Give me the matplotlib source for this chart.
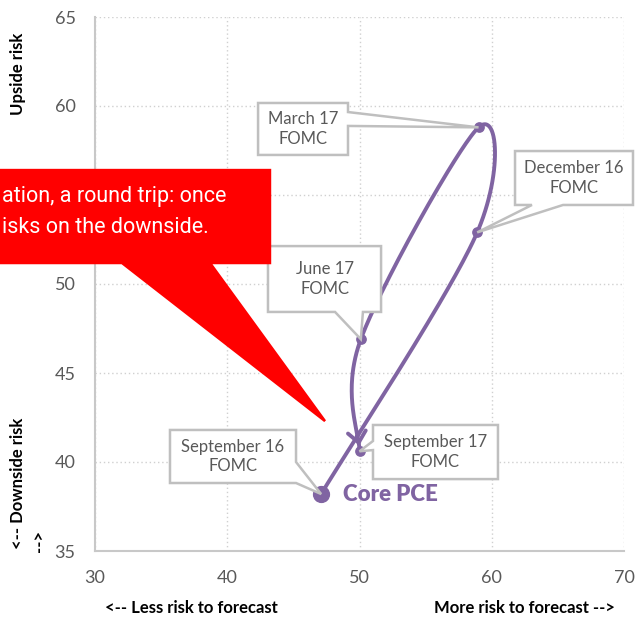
import numpy as np
import matplotlib
matplotlib.use('Agg')
import matplotlib.pyplot as plt
from matplotlib.patches import Polygon

# FOMC meetings, core PCE risk balance (x: risk to forecast, y: up/down risk)
meetings = ['September 16', 'December 16', 'March 17', 'June 17', 'September 17']
risk_x = [47.1, 58.9, 59.0, 50.1, 50.0]
risk_y = [38.2, 52.9, 58.8, 46.9, 40.6]
series_name = 'Core PCE'

x_ticks = [30, 40, 50, 60, 70]
y_ticks = [35, 40, 45, 50, 55, 60, 65]

note_lines = ['ation, a round trip: once', 'isks on the downside.']

PURPLE = '#8064A2'
GREY_TXT = '#595959'
BOX_EDGE = '#BFBFBF'
BASE_FONT = ['Lato', 'DejaVu Sans']

plt.rcParams['font.family'] = BASE_FONT

W, H = 635, 618
fig = plt.figure(figsize=(W / 100, H / 100), dpi=100)
ax = fig.add_axes([95 / W, (H - 551) / H, (624 - 95) / W, (551 - 17) / H])
ax.set_xlim(30, 70)
ax.set_ylim(35, 65)
ax.set_xticks(x_ticks)
ax.set_yticks(y_ticks)
ax.tick_params(length=0, pad=14, labelsize=13, labelcolor=GREY_TXT)
ax.grid(True, color='#D0D0D0', ls=(0, (1, 2)), lw=1.0)
for s in ['top', 'right']:
    ax.spines[s].set_visible(False)
for s in ['left', 'bottom']:
    ax.spines[s].set_color('#C8C8C8')
    ax.spines[s].set_linewidth(1.5)
ax.set_axisbelow(True)

# pixels per data unit, used to smooth the line in screen space
sx = (624 - 95) / 40.0
sy = (551 - 17) / 30.0


def smooth(xs, ys, n=60):
    pts = np.column_stack([np.array(xs) * sx, np.array(ys) * sy])
    out = []
    m = len(pts)
    for i in range(m - 1):
        p0 = pts[max(i - 1, 0)]
        p1 = pts[i]
        p2 = pts[i + 1]
        p3 = pts[min(i + 2, m - 1)]
        c1 = p1 + (p2 - p0) / 6.0
        c2 = p2 - (p3 - p1) / 6.0
        t = np.linspace(0, 1, n)[:, None]
        seg = ((1 - t) ** 3) * p1 + 3 * ((1 - t) ** 2) * t * c1 + 3 * (1 - t) * t ** 2 * c2 + t ** 3 * p2
        out.append(seg if i == 0 else seg[1:])
    out = np.vstack(out)
    return out[:, 0] / sx, out[:, 1] / sy


cx, cy = smooth(risk_x, risk_y)
ax.plot(cx, cy, color=PURPLE, lw=2.8, solid_capstyle='round', zorder=4, clip_on=False)

# open arrowhead a little before the last point
px = cx * sx
py = cy * sy
d = np.concatenate([[0], np.cumsum(np.hypot(np.diff(px), np.diff(py)))])
back = d[-1] - 10
k = np.searchsorted(d, back)
tip = np.array([px[k], py[k]])
dirv = np.array([px[k] - px[k - 3], py[k] - py[k - 3]])
dirv = dirv / np.hypot(*dirv)
for ang in (np.radians(140), np.radians(-140)):
    rot = np.array([[np.cos(ang), -np.sin(ang)], [np.sin(ang), np.cos(ang)]])
    arm = tip + rot @ dirv * 14
    ax.plot([tip[0] / sx, arm[0] / sx], [tip[1] / sy, arm[1] / sy], color=PURPLE, lw=2.8,
            solid_capstyle='round', zorder=4)

ax.scatter(risk_x[1:], risk_y[1:], s=45, color=PURPLE, zorder=5)
ax.scatter(risk_x[:1], risk_y[:1], s=130, color=PURPLE, zorder=5)
ax.text(48.75, risk_y[0], series_name, color=PURPLE, fontsize=16, fontweight='heavy',
        va='center', ha='left', zorder=6)


def callout(x0, x1, y0, y1, side, b0, b1, tip, lines, face='white', edge=BOX_EDGE,
            txt_color=GREY_TXT, fs=12, z=6):
    # rectangle with a wedge on one side pointing at the marker
    if side == 'right':
        verts = [(x0, y1), (x1, y1), (x1, b0), tip, (x1, b1), (x1, y0), (x0, y0)]
    elif side == 'left':
        verts = [(x0, y1), (x1, y1), (x1, y0), (x0, y0), (x0, b1), tip, (x0, b0)]
    else:
        verts = [(x0, y1), (x1, y1), (x1, y0), (b1, y0), tip, (b0, y0), (x0, y0)]
    ax.add_patch(Polygon(verts, closed=True, facecolor=face, edgecolor=edge, lw=1.8,
                         zorder=z, clip_on=False, joinstyle='miter'))
    if lines:
        ax.text((x0 + x1) / 2, (y0 + y1) / 2, '\n'.join(lines), ha='center', va='center',
                color=txt_color, fontsize=fs, zorder=z + 1, linespacing=1.3)


tips = list(zip(risk_x, risk_y))
callout(35.67, 45.20, 38.82, 41.80, 'right', 40.0, 38.82, tips[0], [meetings[0], 'FOMC'])
callout(61.76, 70.68, 54.44, 57.47, 'bottom', 63.04, 65.39, tips[1], [meetings[1], 'FOMC'])
callout(42.33, 49.13, 57.25, 60.17, 'right', 59.66, 58.88, tips[2], [meetings[2], 'FOMC'])
callout(43.08, 51.63, 48.43, 52.13, 'bottom', 48.15, 50.26, tips[3], [meetings[3], 'FOMC'])
callout(51.02, 60.47, 39.04, 42.08, 'left', 41.18, 40.67, tips[4], [meetings[4], 'FOMC'])

# red comment balloon, running off the left edge
callout(22.0, 43.23, 51.18, 56.4, 'bottom', 32.04, 38.70, (47.39, 42.30), None,
        face='#FF0000', edge='#FF0000', z=8)
for i, line in enumerate(note_lines):
    ax.text(22.97, 54.94 - i * 1.79, line, color='white', fontsize=15.5, ha='left', va='center',
            family=['Roboto', 'DejaVu Sans'], zorder=9, clip_on=False)

# axis captions
cap = dict(fontsize=12, fontweight='bold', color='black')
fig.text(18 / W, 1 - 74 / H, 'Upside risk', rotation=90, ha='center', va='center', **cap)
fig.text(18 / W, 1 - 483 / H, '<-- Downside risk', rotation=90, ha='center', va='center', **cap)
fig.text(40 / W, 1 - 541 / H, '-->', rotation=90, ha='center', va='center', **cap)
fig.text(191 / W, 1 - 608 / H, '<-- Less risk to forecast', ha='center', va='center', **cap)
fig.text(615 / W, 1 - 608 / H, 'More risk to forecast -->', ha='right', va='center', **cap)

fig.savefig('out.png', dpi=100)
plt.close(fig)
